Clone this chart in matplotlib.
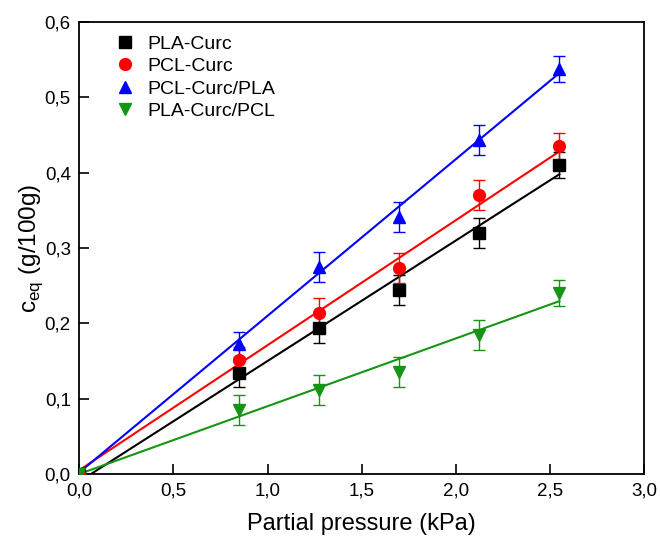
import numpy as np
import matplotlib
matplotlib.use("Agg")
import matplotlib.pyplot as plt
from matplotlib.ticker import FuncFormatter
from matplotlib.lines import Line2D

plt.rcParams['font.family'] = ['Liberation Sans', 'DejaVu Sans']

pressure = [0.0, 0.85, 1.275, 1.7, 2.125, 2.55]
series_names = ["PLA-Curc", "PCL-Curc", "PCL-Curc/PLA", "PLA-Curc/PCL"]
pla_curc = [0.0, 0.134, 0.194, 0.244, 0.320, 0.410]
pla_curc_err = [0.0, 0.018, 0.02, 0.02, 0.02, 0.017]
pcl_curc = [0.0, 0.151, 0.214, 0.274, 0.370, 0.435]
pcl_curc_err = [0.0, 0.018, 0.02, 0.02, 0.02, 0.018]
pcl_curc_pla = [0.0, 0.172, 0.275, 0.341, 0.443, 0.538]
pcl_curc_pla_err = [0.0, 0.017, 0.02, 0.02, 0.02, 0.017]
pla_curc_pcl = [0.0, 0.085, 0.112, 0.135, 0.185, 0.240]
pla_curc_pcl_err = [0.0, 0.02, 0.02, 0.02, 0.02, 0.017]
# linear fits: slope, intercept
fit_slopes = [0.160, 0.166, 0.208, 0.090]
fit_intercepts = [-0.010, 0.005, 0.002, 0.0]
fit_range = [0.0, 2.55]

colors = ["black", "#ff0000", "#0000ff", "#149614"]
markers = ["s", "o", "^", "v"]
values = [pla_curc, pcl_curc, pcl_curc_pla, pla_curc_pcl]
errors = [pla_curc_err, pcl_curc_err, pcl_curc_pla_err, pla_curc_pcl_err]

fig = plt.figure(figsize=(6.6, 5.39), dpi=100)
ax = fig.add_axes([0.12, 0.1206, 0.856, 0.8384])

xf = np.linspace(fit_range[0], fit_range[1], 50)
for name, v, e, c, m, s, b in zip(series_names, values, errors, colors, markers, fit_slopes, fit_intercepts):
    yf = s * xf + b
    ax.plot(xf, yf, color=c, lw=1.5, zorder=2)
    ax.errorbar(pressure, v, yerr=e, fmt=m, color=c, ms=8.5, capsize=4,
                elinewidth=1.0, capthick=1.0, label=name, zorder=3)

ax.set_xlim(0, 3.0)
ax.set_ylim(0, 0.6)
ax.set_xticks(np.arange(0, 3.01, 0.5))
ax.set_yticks(np.arange(0, 0.61, 0.1))
fmt = FuncFormatter(lambda v, p: f"{v:.1f}".replace(".", ","))
ax.xaxis.set_major_formatter(fmt)
ax.yaxis.set_major_formatter(fmt)
ax.tick_params(direction='in', length=7, width=1.2, labelsize=13.5, top=False, right=False, pad=6)
for sp in ax.spines.values():
    sp.set_linewidth(1.3)

ax.set_xlabel("Partial pressure (kPa)", fontsize=17, labelpad=10)
ax.set_ylabel("c$_{\\mathregular{eq}}$ (g/100g)", fontsize=17.5, labelpad=0)

hs = [Line2D([], [], marker=m, color=c, ls='none', ms=8.5) for m, c in zip(markers, colors)]
ax.legend(hs, series_names, loc='upper left', frameon=False, fontsize=14,
          bbox_to_anchor=(0.02, 1.01), handletextpad=0.2, handlelength=1.8,
          labelspacing=0.25)

fig.savefig("out.png", dpi=100)
